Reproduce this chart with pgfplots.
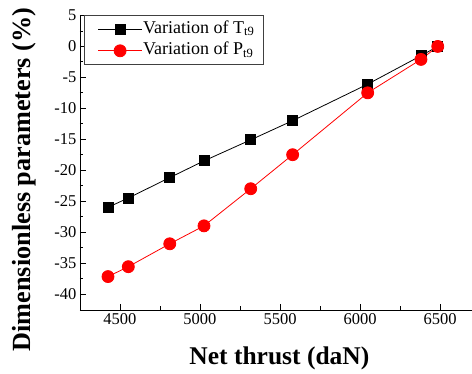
\documentclass[border=0pt]{standalone}
\usepackage{fontspec}
\setmainfont{Liberation Serif}
\usepackage{pgfplots}
\pgfplotsset{compat=1.18}

\pgfplotstableread{
thrust  T
4425  -26.0
4552  -24.5
4811  -21.2
5025  -18.5
5317  -15.1
5579  -12.0
6048  -6.1
6381  -1.5
6486   0.0
}\tempdata

\pgfplotstableread{
thrust  P
4425  -37.2
4552  -35.6
4811  -31.9
5025  -29.0
5317  -23.0
5579  -17.5
6048  -7.5
6381  -2.1
6486   0.0
}\pressdata

\begin{document}
\begin{tikzpicture}
\begin{axis}[
  scale only axis,
  width=392pt, height=294.5pt,
  xmin=4250, xmax=6700,
  ymin=-42.6, ymax=5,
  axis x line=bottom, axis y line=left,
  axis line style={-, line width=0.8pt},
  xtick={4500,5000,...,6500},
  ytick={-40,-35,...,5},
  minor x tick num=1, minor y tick num=1,
  xtick align=inside, ytick align=inside,
  major tick length=6pt, minor tick length=3.5pt,
  every tick/.style={black, line width=0.8pt},
  tick label style={font=\fontsize{16.5}{18}\selectfont},
  /pgf/number format/assume math mode=true,
  /pgf/number format/1000 sep={},
  xlabel={Net thrust (daN)},
  ylabel={Dimensionless parameters (\%)},
  xlabel style={at={(axis description cs:0.5087,-0.163)}, anchor=center,
    font=\fontsize{25.5}{28}\selectfont\bfseries},
  ylabel style={at={(axis description cs:-0.1416,0.443)}, anchor=center, rotate=0,
    font=\fontsize{26.2}{28}\selectfont\bfseries},
  legend style={at={(axis description cs:0.0102,1)}, anchor=north west,
    draw=black!75, line width=0.8pt, font=\fontsize{18}{21}\selectfont,
    cells={anchor=west}, inner xsep=8.3pt, inner ysep=2.5pt,
    row sep=0pt, column sep=0pt,
    nodes={inner xsep=0.7pt, inner ysep=1.8pt}},
  legend image code/.code={%
    \path (-5pt,0pt);
    \draw[mark repeat=2, mark phase=2] plot coordinates {(0pt,0pt) (22pt,0pt) (44pt,0pt)};},
]
\coordinate (sw) at (rel axis cs:0,0);
\addplot[black, line width=0.8pt, mark=square*, mark size=5pt,
  mark options={fill=black}] table[x=thrust, y=T] {\tempdata};
\addlegendentry[text height=13pt, text depth=5pt]{Variation of T\textsubscript{t9}}
\addplot[red, line width=0.8pt, mark=*, mark size=6pt,
  mark options={fill=red, draw=red}] table[x=thrust, y=P] {\pressdata};
\addlegendentry[text height=13pt, text depth=5pt]{Variation of P\textsubscript{t9}}
\end{axis}
\pgfresetboundingbox
\path[use as bounding box] ([shift={(-80pt,-64pt)}]sw) rectangle ++(472pt,374pt);
\end{tikzpicture}
\end{document}
